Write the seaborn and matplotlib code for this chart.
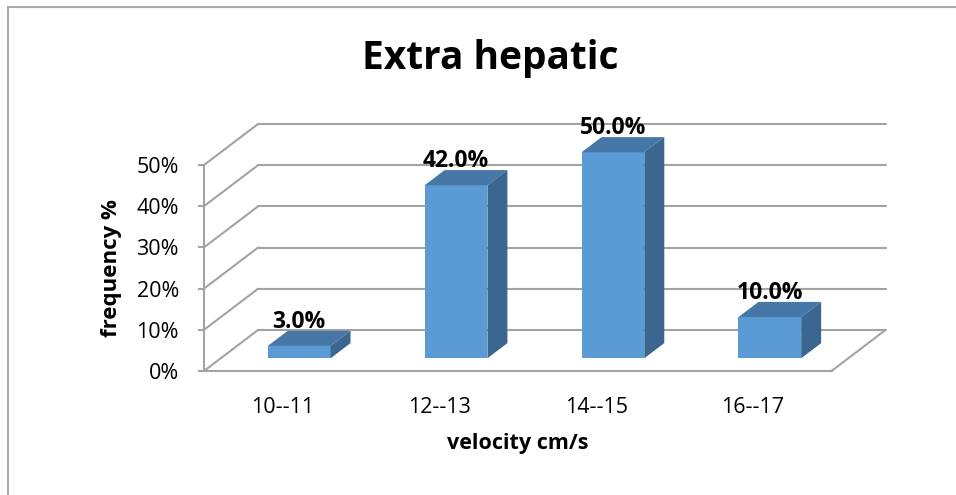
import matplotlib
matplotlib.use("Agg")
import matplotlib.pyplot as plt
from matplotlib.patches import Polygon
from matplotlib.transforms import offset_copy
from matplotlib.ticker import PercentFormatter
import seaborn as sns
import pandas as pd

# chart data
velocity = ["10--11", "12--13", "14--15", "16--17"]
frequency = [0.03, 0.42, 0.50, 0.10]
y_ticks = [0.0, 0.1, 0.2, 0.3, 0.4, 0.5]

front_color = "#5B9BD5"
top_color = "#4677A6"
side_color = "#3B6690"
grid_color = "#A3A3A3"

# depth of the fake 3d box in pixels (floor front -> back wall)
DX, DY = 54, 41
t_front, t_back = 0.31, 0.68   # bar depth inside the box

sns.set_style("white", rc={"text.color": "black", "axes.labelcolor": "black",
                           "xtick.color": "black", "ytick.color": "black"})
plt.rcParams["font.family"] = ["Open Sans", "DejaVu Sans"]

fig = plt.figure(figsize=(9.56, 4.95), dpi=100)
ax = fig.add_axes([204 / 956, 124 / 495, 627.5 / 956, 206 / 495])

df = pd.DataFrame({"velocity": velocity, "frequency": frequency})
sns.barplot(data=df, x="velocity", y="frequency", ax=ax, width=0.4,
            color=front_color, saturation=1, edgecolor="none", zorder=3)
ax.set_xlim(-0.5, 3.5)
ax.set_ylim(0, 0.5)

px_x = ax.bbox.width / 4.0
px_y = ax.bbox.height / 0.5


def depth(t):
    return t * DX / px_x, t * DY / px_y


bx, by = depth(1.0)
fx, fy = depth(t_front)
kx, ky = depth(t_back)

# back wall grid + left wall diagonals
for v in y_ticks:
    ax.plot([-0.5 + bx, 3.5 + bx], [v + by, v + by], color=grid_color, lw=1.5,
            clip_on=False, zorder=0)
    ax.plot([-0.5, -0.5 + bx], [v, v + by], color=grid_color, lw=1.5,
            clip_on=False, zorder=0)
# floor right edge
ax.plot([3.5, 3.5 + bx], [0, by], color=grid_color, lw=1.5, clip_on=False, zorder=0)

# move the bars into the box and add top / side faces
bar_shift = offset_copy(ax.transData, fig=fig, x=t_front * DX, y=t_front * DY, units="dots")
for p in ax.patches:
    x0, w, h = p.get_x(), p.get_width(), p.get_height()
    x1 = x0 + w
    p.set_transform(bar_shift)
    top = [(x0 + fx, h + fy), (x1 + fx, h + fy), (x1 + kx, h + ky), (x0 + kx, h + ky)]
    side = [(x1 + fx, fy), (x1 + kx, ky), (x1 + kx, h + ky), (x1 + fx, h + fy)]
    ax.add_patch(Polygon(top, closed=True, facecolor=top_color, edgecolor="none",
                         zorder=3, clip_on=False))
    ax.add_patch(Polygon(side, closed=True, facecolor=side_color, edgecolor="none",
                         zorder=3, clip_on=False))
    p.set_clip_on(False)

# value labels above the bars
label_tr = offset_copy(ax.transData, fig=fig, x=t_front * DX, y=t_back * DY - 3, units="dots")
for i, v in enumerate(frequency):
    ax.text(i, v, f"{v:.1%}", transform=label_tr, ha="center", va="bottom",
            fontsize=16.5, fontweight="bold", color="black")

# axes styling
for s in ["top", "right"]:
    ax.spines[s].set_visible(False)
for s in ["left", "bottom"]:
    ax.spines[s].set_color(grid_color)
    ax.spines[s].set_linewidth(1.5)
ax.set_yticks(y_ticks)
ax.yaxis.set_major_formatter(PercentFormatter(1.0, decimals=0))
ax.tick_params(axis="y", direction="out", length=4, width=1.5, color=grid_color,
               labelcolor="black", pad=14, labelsize=15.5, left=True)
ax.tick_params(axis="x", length=0, pad=19, labelsize=15.5, labelcolor="black")

ax.set_xlabel("velocity cm/s", fontsize=15.5, fontweight="bold", color="black")
ax.xaxis.set_label_coords(0.5, -0.30)
ax.set_ylabel("frequency %", fontsize=16, fontweight="bold", color="black")
ax.yaxis.set_label_coords(-0.131, 0.5)

fig.text(490 / 956, 436 / 495, "Extra hepatic", ha="center", va="center",
         fontsize=28, fontweight="bold", color="black")

# outer chart border (top and left only visible)
fig.add_artist(plt.Line2D([8 / 956, 1.0], [488 / 495, 488 / 495], color="#ABABAB", lw=1.5))
fig.add_artist(plt.Line2D([8 / 956, 8 / 956], [0, 488 / 495], color="#ABABAB", lw=1.5))

fig.savefig("out.png", dpi=100)
